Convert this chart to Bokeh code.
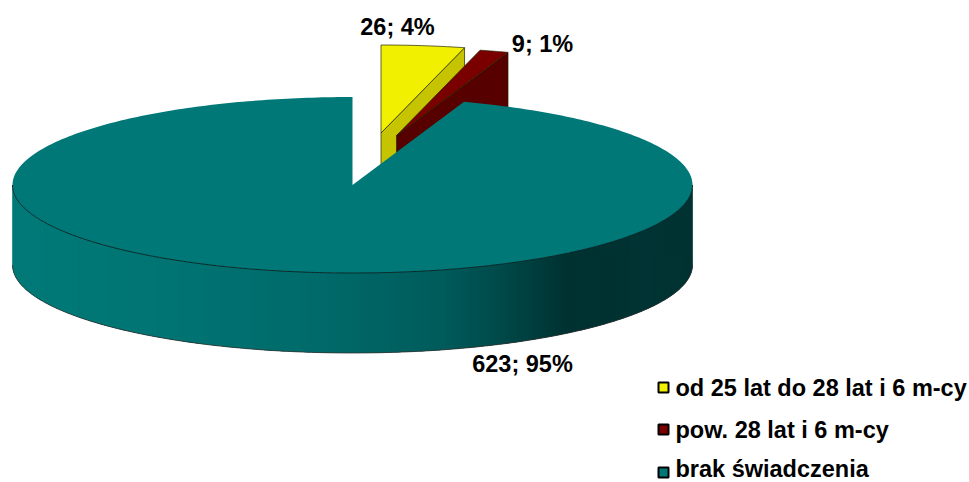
import numpy as np
from bokeh.plotting import figure
from bokeh.embed import file_html
from bokeh.resources import INLINE
from bokeh.core.properties import value

categories = ["od 25 lat do 28 lat i 6 m-cy", "pow. 28 lat i 6 m-cy", "brak świadczenia"]
counts = [26, 9, 623]
percents = [4, 1, 95]
top_colors = ["#F0F000", "#7A0000", "#007878"]
side_colors = ["#C6C400", "#560000"]

W, H = 969, 482
p = figure(width=W, height=H, x_range=(0, W), y_range=(H, 0), output_backend="svg",
           toolbar_location=None, min_border=0, outline_line_color=None,
           background_fill_color="white", border_fill_color="white")
p.axis.visible = False
p.grid.visible = False

CX, CY, RX, RY, DEPTH = 352.0, 184.5, 340.0, 88.0, 80.0
total = sum(counts)
edges = np.concatenate([[0.0], np.cumsum(counts) / total * 2 * np.pi])


def px(t, cx=CX):
    return cx + RX * np.sin(t)


def py(t, cy=CY):
    return cy - RY * np.cos(t)


offsets = [(28.5, -52.0), (44.0, -49.5)]

# exploded small slices: cut face, then top
for i, (dx, dy) in enumerate(offsets):
    a, b = edges[i], edges[i + 1]
    ax, ay = CX + dx, CY + dy
    ex, ey = px(b, ax), py(b, ay)
    p.patch([ax, ex, ex, ax], [ay, ey, ey + DEPTH, ay + DEPTH],
            fill_color=side_colors[i], line_color="#222200", line_width=0.7)
    t = np.linspace(a, b, 30)
    p.patch(np.r_[ax, px(t, ax)], np.r_[ay, py(t, ay)],
            fill_color=top_colors[i], line_color="#222200", line_width=0.7)

# rim of the large slice, shaded along x; each strip overlaps the next to hide seams
stops_x = [12, 140, 300, 440, 500, 565, 692]
stops_c = [(0, 122, 120), (0, 118, 116), (0, 108, 108), (0, 92, 92), (0, 74, 74), (0, 50, 50), (0, 52, 52)]
ts = np.linspace(3 * np.pi / 2, np.pi / 2, 261)
xs, ys, cols = [], [], []
for k in range(len(ts) - 1):
    seg = ts[k:k + 4]
    xs.append(np.r_[px(seg), px(seg[::-1])])
    ys.append(np.r_[py(seg), py(seg[::-1]) + DEPTH])
    xm = (px(ts[k]) + px(ts[k + 1])) / 2
    c = [int(np.interp(xm, stops_x, [s[j] for s in stops_c])) for j in range(3)]
    cols.append("#%02x%02x%02x" % tuple(c))
p.patches(xs, ys, fill_color=cols, line_color=None)
p.line(px(ts), py(ts) + DEPTH, line_color="#333333", line_width=0.8)

# top of the large slice
t = np.linspace(edges[2], edges[3], 400)
p.patch(np.r_[CX, px(t)], np.r_[CY, py(t)], fill_color=top_colors[2], line_color=None)
p.line(px(ts), py(ts), line_color="#0a2a2a", line_width=1)

# data labels
labels = [f"{c}; {q}%" for c, q in zip(counts, percents)]
label_x = [397, 542, 522]
label_y = [26, 43, 363]
p.text(label_x, label_y, text=labels, text_font=value("Liberation Sans"), text_font_style="bold",
       text_font_size="23.5px", text_color="black", text_align="center", text_baseline="middle")

# legend
leg_y = [387, 429, 472]
text_y = [387, 429, 468.5]
p.rect([663] * 3, leg_y, width=10, height=10, fill_color=top_colors, line_color="black", line_width=2)
p.text([675] * 3, text_y, text=categories, text_font=value("Liberation Sans"), text_font_style="bold",
       text_font_size="23.5px", text_color="black", text_align="left", text_baseline="middle")

open("out.html", "w").write(file_html(p, INLINE))
